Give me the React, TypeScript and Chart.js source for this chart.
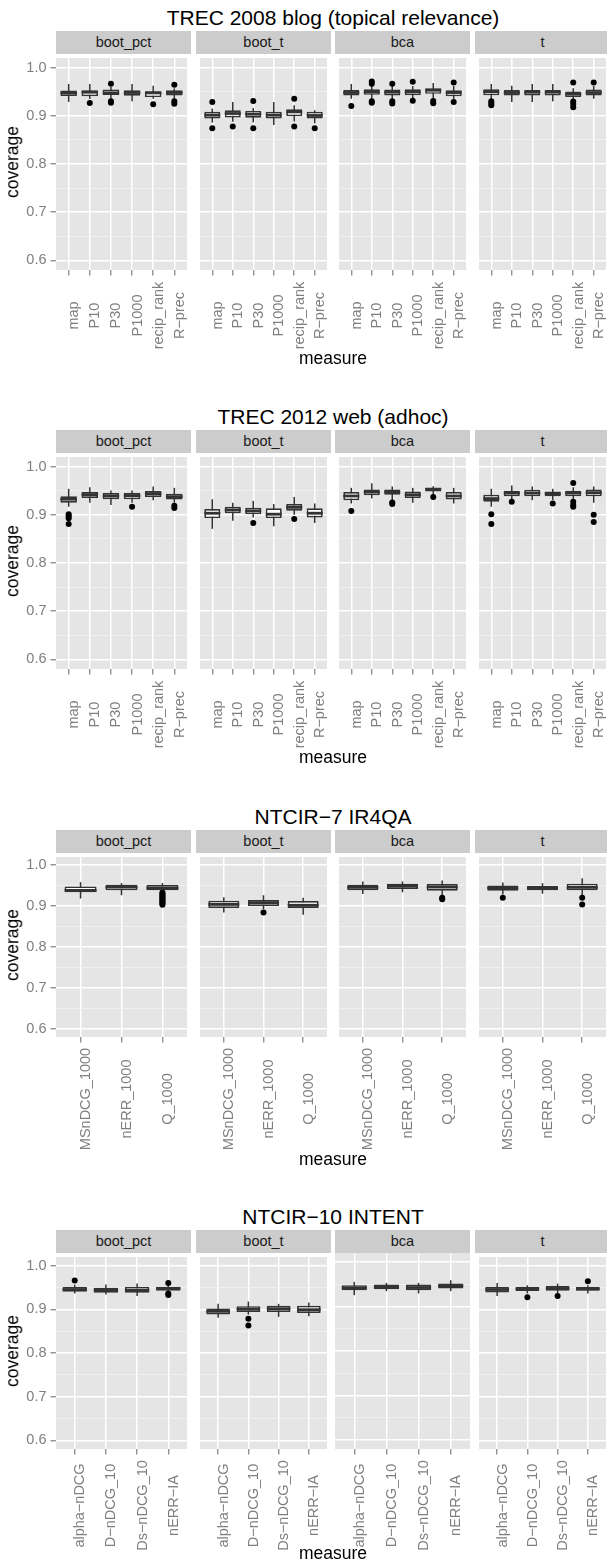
import React, { useEffect, useRef } from 'react';
import { Chart, registerables } from 'chart.js';

Chart.register(...registerables);

const FONT = '"Liberation Sans", Arial, Helvetica, sans-serif';

// ---------- categories / labels ----------
const methods = ['boot_pct', 'boot_t', 'bca', 't'];
const trec08Measures = ['map', 'P10', 'P30', 'P1000', 'recip_rank', 'R−prec'];
const trec12Measures = ['map', 'P10', 'P30', 'P1000', 'recip_rank', 'R−prec'];
const ir4qaMeasures = ['MSnDCG_1000', 'nERR_1000', 'Q_1000'];
const intentMeasures = ['alpha−nDCG', 'D−nDCG_10', 'Ds−nDCG_10', 'nERR−IA'];
const yMajorTicks = [0.6, 0.7, 0.8, 0.9, 1.0];
const yMinorTicks = [0.65, 0.75, 0.85, 0.95];
const yRange = [0.58, 1.02];

// ---------- box stats: [lower whisker, q1, median, q3, upper whisker] ----------
// TREC 2008 blog
const trec08BootPct = [
  [0.929, 0.941, 0.9476, 0.9524, 0.966],
  [0.935, 0.9408, 0.949, 0.9531, 0.966],
  [0.935, 0.943, 0.9476, 0.9544, 0.9605],
  [0.93, 0.9415, 0.9483, 0.9531, 0.966],
  [0.9354, 0.9388, 0.9476, 0.951, 0.9626],
  [0.9354, 0.9422, 0.9483, 0.9531, 0.9571],
];
const trec08BootPctOut = [[], [0.9265], [0.9667, 0.93, 0.927], [], [0.9238], [0.9646, 0.93, 0.9252]];
const trec08BootT = [
  [0.886, 0.8946, 0.9014, 0.9082, 0.915],
  [0.8878, 0.8966, 0.9048, 0.9116, 0.9286],
  [0.8864, 0.8959, 0.9034, 0.9102, 0.916],
  [0.881, 0.8946, 0.9014, 0.9082, 0.9286],
  [0.888, 0.8993, 0.9082, 0.9136, 0.922],
  [0.8844, 0.8946, 0.9007, 0.9082, 0.9116],
];
const trec08BootTOut = [[0.9286, 0.8741], [0.8776], [0.9306, 0.8741], [], [0.9354, 0.8776], [0.8741]];
const trec08Bca = [
  [0.9354, 0.9422, 0.9483, 0.9537, 0.966],
  [0.935, 0.9435, 0.9497, 0.9551, 0.962],
  [0.935, 0.9422, 0.949, 0.9544, 0.962],
  [0.935, 0.9429, 0.9497, 0.9551, 0.962],
  [0.936, 0.9456, 0.9531, 0.9571, 0.968],
  [0.935, 0.9408, 0.9483, 0.9531, 0.962],
];
const trec08BcaOut = [[0.9204], [0.9714, 0.9667, 0.93, 0.927], [0.9667, 0.93, 0.9258], [0.9707, 0.9313], [0.931, 0.926], [0.9694, 0.9286]];
const trec08T = [
  [0.935, 0.9429, 0.9503, 0.9551, 0.966],
  [0.9286, 0.9422, 0.9483, 0.9537, 0.9626],
  [0.9286, 0.9422, 0.949, 0.9537, 0.966],
  [0.9299, 0.9422, 0.949, 0.9537, 0.966],
  [0.935, 0.9388, 0.9449, 0.9503, 0.9571],
  [0.9354, 0.9422, 0.9483, 0.9544, 0.962],
];
const trec08TOut = [[0.93, 0.926, 0.922], [], [], [], [0.9694, 0.9299, 0.9245, 0.918], [0.9694]];

// TREC 2012 web
const trec12BootPct = [
  [0.9168, 0.925, 0.9324, 0.9385, 0.954],
  [0.925, 0.9351, 0.9418, 0.9473, 0.9574],
  [0.9202, 0.9324, 0.9391, 0.9452, 0.9506],
  [0.925, 0.9324, 0.9398, 0.9452, 0.9506],
  [0.9304, 0.9371, 0.9439, 0.9493, 0.9588],
  [0.925, 0.9317, 0.9378, 0.9439, 0.956],
];
const trec12BootPctOut = [[0.9013, 0.897, 0.893, 0.881], [], [], [0.9168], [], [0.9189, 0.914]];
const trec12BootT = [
  [0.8709, 0.8932, 0.9033, 0.9122, 0.9324],
  [0.8878, 0.9033, 0.9101, 0.9168, 0.925],
  [0.8945, 0.9013, 0.9081, 0.9148, 0.929],
  [0.8763, 0.8932, 0.9013, 0.9135, 0.9223],
  [0.8999, 0.9087, 0.9155, 0.9223, 0.9371],
  [0.8831, 0.8945, 0.9033, 0.9135, 0.9236],
];
const trec12BootTOut = [[], [], [0.8831], [], [0.8911], []];
const trec12Bca = [
  [0.9236, 0.9304, 0.9391, 0.9473, 0.956],
  [0.9337, 0.9405, 0.9473, 0.9527, 0.9655],
  [0.9304, 0.9418, 0.9473, 0.9527, 0.9588],
  [0.925, 0.9351, 0.9418, 0.9486, 0.956],
  [0.9405, 0.9486, 0.9527, 0.9567, 0.9594],
  [0.9236, 0.9317, 0.9391, 0.9473, 0.956],
];
const trec12BcaOut = [[0.9081], [], [0.9256, 0.9223], [], [0.9371], []];
const trec12T = [
  [0.9168, 0.927, 0.9337, 0.9418, 0.954],
  [0.9304, 0.9385, 0.9452, 0.95, 0.9608],
  [0.9304, 0.9385, 0.9452, 0.952, 0.9588],
  [0.9304, 0.9385, 0.9439, 0.9486, 0.954],
  [0.9304, 0.9385, 0.9452, 0.95, 0.9574],
  [0.925, 0.9385, 0.946, 0.9527, 0.9588],
];
const trec12TOut = [[0.9013, 0.881], [0.927], [], [0.9236], [0.9662, 0.927, 0.9202, 0.9168], [0.9003, 0.8851]];

// NTCIR-7 IR4QA
const ir4qaBootPct = [
  [0.9185, 0.9337, 0.9385, 0.9481, 0.9585],
  [0.9265, 0.9385, 0.9465, 0.9521, 0.9561],
  [0.935, 0.9385, 0.9441, 0.9513, 0.9561],
];
const ir4qaBootPctOut = [[], [], [0.933, 0.9295, 0.927, 0.9235, 0.921, 0.918, 0.9155, 0.912, 0.909, 0.906, 0.9035]];
const ir4qaBootT = [
  [0.8842, 0.8954, 0.9041, 0.913, 0.9217],
  [0.8922, 0.9002, 0.9082, 0.9146, 0.9265],
  [0.8786, 0.8954, 0.902, 0.9122, 0.9201],
];
const ir4qaBootTOut = [[], [0.8842], []];
const ir4qaBca = [
  [0.9297, 0.9385, 0.9457, 0.9521, 0.9601],
  [0.9337, 0.9417, 0.9489, 0.9545, 0.9601],
  [0.926, 0.9377, 0.9465, 0.9537, 0.9625],
];
const ir4qaBcaOut = [[], [], [0.9201, 0.917]];
const ir4qaT = [
  [0.9281, 0.9377, 0.9441, 0.9505, 0.9577],
  [0.9305, 0.9385, 0.9441, 0.9489, 0.9561],
  [0.926, 0.9385, 0.9457, 0.9545, 0.968],
];
const ir4qaTOut = [[0.9201], [], [0.9201, 0.9041]];

// NTCIR-10 INTENT
const intentBootPct = [
  [0.9365, 0.9403, 0.9455, 0.9515, 0.9567],
  [0.9343, 0.938, 0.944, 0.9493, 0.9567],
  [0.9306, 0.938, 0.944, 0.9515, 0.959],
  [0.9403, 0.9425, 0.9478, 0.9515, 0.9552],
];
const intentBootPctOut = [[0.9664], [], [], [0.9605, 0.9365, 0.9328]];
const intentBootT = [
  [0.8805, 0.888, 0.8954, 0.9022, 0.9126],
  [0.888, 0.8939, 0.9007, 0.9074, 0.9179],
  [0.8827, 0.8939, 0.9014, 0.9081, 0.9126],
  [0.8842, 0.8917, 0.8992, 0.9081, 0.9156],
];
const intentBootTOut = [[], [0.8783, 0.8633], [], []];
const intentBca = [
  [0.9253, 0.9365, 0.9418, 0.9478, 0.9552],
  [0.9343, 0.9388, 0.944, 0.9493, 0.953],
  [0.9291, 0.9365, 0.9425, 0.9493, 0.953],
  [0.9343, 0.9403, 0.9463, 0.9515, 0.959],
];
const intentBcaOut = [[], [], [], []];
const intentT = [
  [0.9306, 0.9388, 0.9455, 0.9515, 0.9605],
  [0.9365, 0.9418, 0.947, 0.9515, 0.9552],
  [0.9365, 0.9425, 0.9478, 0.9537, 0.959],
  [0.9365, 0.9425, 0.947, 0.9515, 0.9552],
];
const intentTOut = [[], [0.9276], [0.9306], [0.9642]];

// ---------- layout ----------
const PANEL_LEFTS = [56, 196, 335, 475];
const PANEL_W = 135;
const YAXIS_W = 56;

const SECTIONS = [
  {
    title: 'TREC 2008 blog (topical relevance)', cats: trec08Measures,
    stats: [trec08BootPct, trec08BootT, trec08Bca, trec08T],
    outs: [trec08BootPctOut, trec08BootTOut, trec08BcaOut, trec08TOut],
    panelTop: 54, panelH: 216, labelOffset: 45.5, measureBase: 365,
  },
  {
    title: 'TREC 2012 web (adhoc)', cats: trec12Measures,
    stats: [trec12BootPct, trec12BootT, trec12Bca, trec12T],
    outs: [trec12BootPctOut, trec12BootTOut, trec12BcaOut, trec12TOut],
    panelTop: 453, panelH: 216, labelOffset: 45.5, measureBase: 764,
  },
  {
    title: 'NTCIR−7 IR4QA', cats: ir4qaMeasures,
    stats: [ir4qaBootPct, ir4qaBootT, ir4qaBca, ir4qaT],
    outs: [ir4qaBootPctOut, ir4qaBootTOut, ir4qaBcaOut, ir4qaTOut],
    panelTop: 853, panelH: 184, labelOffset: 62, measureBase: 1166,
  },
  {
    title: 'NTCIR−10 INTENT', cats: intentMeasures,
    stats: [intentBootPct, intentBootT, intentBca, intentT],
    outs: [intentBootPctOut, intentBootTOut, intentBcaOut, intentTOut],
    panelTop: 1253, panelH: 196, labelOffset: 56.5, measureBase: 1560,
  },
];

const isMajor = (v: number) => Math.abs(v * 10 - Math.round(v * 10)) < 1e-6;

// ---------- plugins ----------
const panelBg = {
  id: 'panelBg',
  beforeDraw(chart: any, _a: any, opts: any) {
    const { ctx, chartArea: a } = chart;
    ctx.save();
    ctx.fillStyle = opts.color || '#e5e5e5';
    ctx.fillRect(a.left, a.top, a.right - a.left, a.bottom - a.top);
    ctx.restore();
  },
};

const boxWhisker = {
  id: 'boxWhisker',
  beforeDatasetsDraw(chart: any, _a: any, opts: any) {
    const { ctx, scales } = chart;
    const x = scales.x, y = scales.y;
    ctx.save();
    ctx.strokeStyle = '#333333';
    ctx.lineWidth = 1.5;
    (opts.stats || []).forEach((s: number[], i: number) => {
      const px = x.getPixelForValue(i + 1);
      ctx.beginPath();
      ctx.moveTo(px, y.getPixelForValue(s[0]));
      ctx.lineTo(px, y.getPixelForValue(s[4]));
      ctx.stroke();
    });
    ctx.restore();
  },
  afterDatasetsDraw(chart: any, _a: any, opts: any) {
    const { ctx, scales } = chart;
    const y = scales.y;
    const meta = chart.getDatasetMeta(0);
    ctx.save();
    ctx.strokeStyle = '#333333';
    ctx.lineWidth = 2.8;
    (opts.stats || []).forEach((s: number[], i: number) => {
      const el = meta.data[i];
      if (!el) return;
      const half = el.width / 2;
      const py = y.getPixelForValue(s[2]);
      ctx.beginPath();
      ctx.moveTo(el.x - half, py);
      ctx.lineTo(el.x + half, py);
      ctx.stroke();
    });
    ctx.restore();
  },
};

const xLabels = {
  id: 'xLabels',
  afterDraw(chart: any, _a: any, opts: any) {
    const { ctx, chartArea, scales } = chart;
    const x = scales.x;
    ctx.save();
    ctx.fillStyle = '#7f7f7f';
    ctx.font = `14.5px ${FONT}`;
    ctx.textAlign = 'center';
    ctx.textBaseline = 'alphabetic';
    (opts.labels || []).forEach((lab: string, i: number) => {
      const px = x.getPixelForValue(i + 1);
      ctx.save();
      ctx.translate(px + opts.shift, chartArea.bottom + opts.offset);
      ctx.rotate(-Math.PI / 2);
      ctx.fillText(lab, 0, 0);
      ctx.restore();
    });
    ctx.restore();
  },
};

// ---------- components ----------
function Facet(props: any) {
  const { left, top, width, height, axisH, showY, labels, stats, outs, labelOffset } = props;
  const ref = useRef<HTMLCanvasElement>(null);
  useEffect(() => {
    const n = labels.length;
    const boxData = stats.map((s: number[], i: number) => ({ x: i + 1, y: [s[1], s[3]] }));
    const outData: any[] = [];
    outs.forEach((arr: number[], i: number) => arr.forEach((v) => outData.push({ x: i + 1, y: v })));
    const allY = [...yMajorTicks, ...yMinorTicks].sort((a, b) => a - b);
    const chart = new Chart(ref.current as HTMLCanvasElement, {
      type: 'bar',
      data: {
        datasets: [
          {
            type: 'bar',
            data: boxData,
            backgroundColor: '#ffffff',
            borderColor: '#333333',
            borderWidth: 1.7,
            borderSkipped: false,
            barPercentage: 0.78,
            categoryPercentage: 1,
            order: 0,
          } as any,
          {
            type: 'scatter',
            data: outData,
            backgroundColor: '#000000',
            borderColor: '#000000',
            borderWidth: 0,
            pointRadius: 3,
            order: 1,
          } as any,
        ],
      },
      options: {
        responsive: false,
        maintainAspectRatio: false,
        animation: false,
        events: [],
        layout: { padding: 0 },
        plugins: {
          legend: { display: false },
          tooltip: { enabled: false },
          title: { display: false },
          panelBg: { color: '#e5e5e5' },
          boxWhisker: { stats },
          xLabels: { labels, offset: labelOffset, shift: 9.5 },
        } as any,
        scales: {
          x: {
            type: 'linear',
            min: 0.4,
            max: n + 0.6,
            offset: false,
            afterBuildTicks: (s: any) => {
              s.ticks = labels.map((_: string, i: number) => ({ value: i + 1 }));
            },
            afterFit: (s: any) => {
              s.height = axisH;
              s.paddingLeft = 0;
              s.paddingRight = 0;
            },
            ticks: { display: false },
            grid: {
              color: '#ffffff',
              lineWidth: 1.5,
              drawTicks: true,
              tickLength: 5.5,
              tickColor: '#7f7f7f',
              tickWidth: 1.2,
              offset: false,
            },
            border: { display: false },
          },
          y: {
            type: 'linear',
            min: yRange[0],
            max: yRange[1],
            afterBuildTicks: (s: any) => {
              s.ticks = allY.map((v) => ({ value: v }));
            },
            afterFit: (s: any) => {
              s.width = showY ? YAXIS_W : 0;
              s.paddingTop = 0;
              s.paddingBottom = 0;
            },
            ticks: {
              display: showY,
              color: '#7f7f7f',
              font: { family: FONT, size: 14.5 },
              padding: 4,
              autoSkip: false,
              callback: (v: any) => (isMajor(Number(v)) ? Number(v).toFixed(1) : ''),
            },
            grid: {
              color: (c: any) => (c.tick && isMajor(c.tick.value) ? '#ffffff' : '#f2f2f2'),
              lineWidth: (c: any) => (c.tick && isMajor(c.tick.value) ? 1.5 : 0.8),
              drawTicks: showY,
              tickLength: 5.5,
              tickColor: (c: any) => (c.tick && isMajor(c.tick.value) ? '#7f7f7f' : 'rgba(0,0,0,0)'),
              tickWidth: 1.2,
            },
            border: { display: false },
          },
        } as any,
      },
      plugins: [panelBg, boxWhisker, xLabels] as any,
    });
    return () => chart.destroy();
  }, []);
  return (
    <canvas
      ref={ref}
      width={width}
      height={height}
      style={{ position: 'absolute', left, top, width, height }}
    />
  );
}

function textTop(baseline: number, fs: number) {
  return baseline - 0.8465 * fs;
}

function Section({ sec }: { sec: any }) {
  const stripH = 23.5;
  const stripTop = sec.panelTop - stripH;
  const titleBase = stripTop - 5.7;
  const axisH = Math.ceil(2 * sec.labelOffset + 10);
  const regionLeft = PANEL_LEFTS[0];
  const regionW = PANEL_LEFTS[3] + PANEL_W - regionLeft;
  return (
    <>
      <div
        style={{
          position: 'absolute', left: regionLeft, width: regionW, top: textTop(titleBase, 21),
          fontSize: 21, lineHeight: '21px', textAlign: 'center', whiteSpace: 'nowrap', color: '#000',
        }}
      >
        {sec.title}
      </div>
      {methods.map((m, i) => (
        <div
          key={'strip' + i}
          style={{
            position: 'absolute', left: PANEL_LEFTS[i], width: PANEL_W, top: stripTop, height: stripH,
            background: '#cccccc', display: 'flex', alignItems: 'center', justifyContent: 'center',
            fontSize: 14.5, lineHeight: '14.5px', color: '#1a1a1a', whiteSpace: 'nowrap',
          }}
        >
          {m}
        </div>
      ))}
      {methods.map((m, i) => (
        <Facet
          key={'facet' + i}
          left={i === 0 ? 0 : PANEL_LEFTS[i]}
          top={sec.panelTop}
          width={i === 0 ? YAXIS_W + PANEL_W : PANEL_W}
          height={sec.panelH + axisH}
          axisH={axisH}
          showY={i === 0}
          labels={sec.cats}
          stats={sec.stats[i]}
          outs={sec.outs[i]}
          labelOffset={sec.labelOffset}
        />
      ))}
      <div
        style={{
          position: 'absolute', left: 13, top: sec.panelTop + sec.panelH / 2,
          transform: 'translate(-50%, -50%) rotate(-90deg)',
          fontSize: 17.5, lineHeight: '17.5px', whiteSpace: 'nowrap', color: '#000',
        }}
      >
        coverage
      </div>
      <div
        style={{
          position: 'absolute', left: regionLeft, width: regionW, top: textTop(sec.measureBase, 17.5),
          fontSize: 17.5, lineHeight: '17.5px', textAlign: 'center', whiteSpace: 'nowrap', color: '#000',
        }}
      >
        measure
      </div>
    </>
  );
}

export default function App() {
  return (
    <div
      style={{
        position: 'absolute', left: 0, top: 0, width: 607, height: 1564, overflow: 'hidden',
        background: '#ffffff', fontFamily: FONT,
      }}
    >
      {SECTIONS.map((s, si) => (
        <Section key={si} sec={s} />
      ))}
    </div>
  );
}
